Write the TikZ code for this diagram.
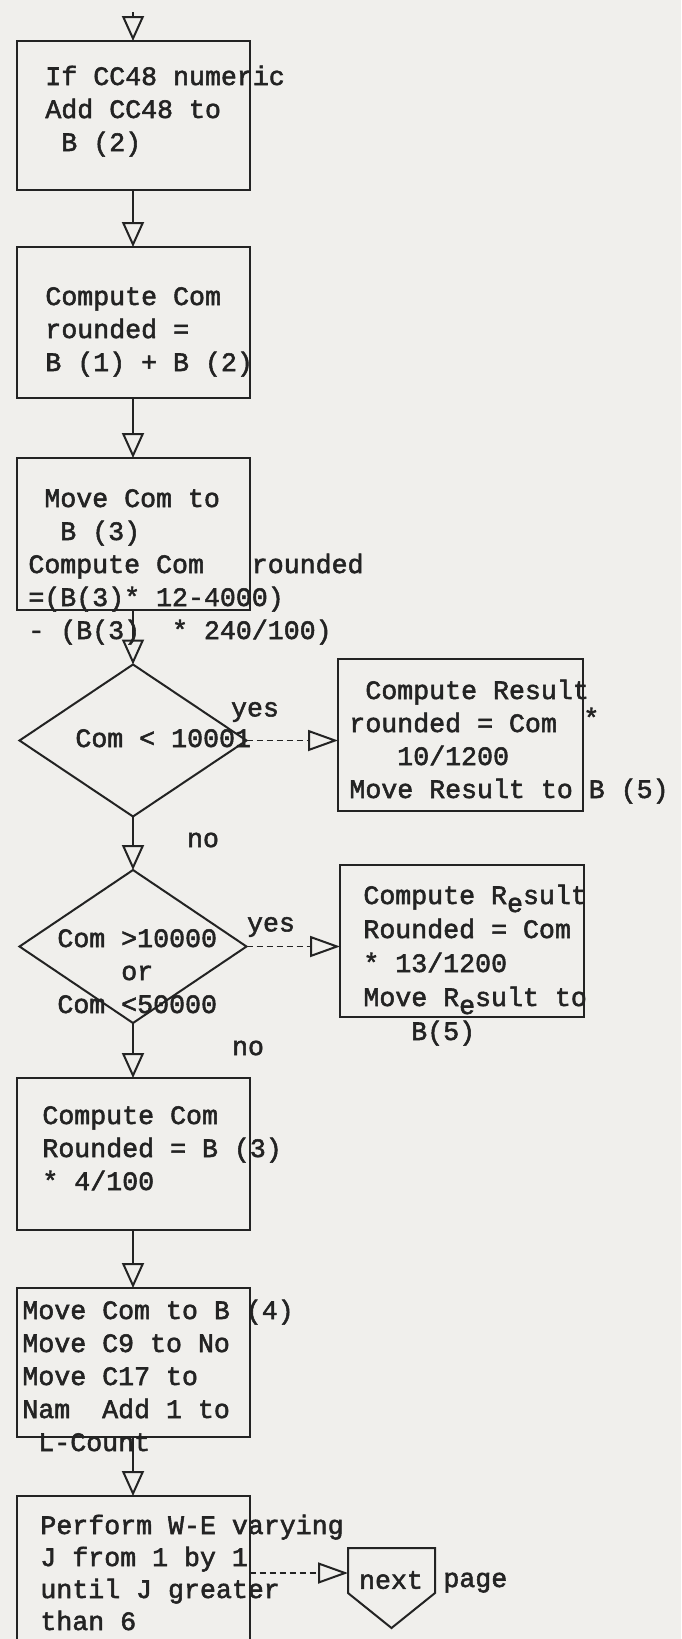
\documentclass[tikz,border=0pt]{standalone}
\usepackage{fontspec}
\usepackage{tikz}
\usetikzlibrary{arrows.meta,shapes.geometric,calc}
\newfontfamily\typerfont[FakeBold=2]{Liberation Mono}
\newcommand{\typer}{\typerfont\fontsize{13.3pt}{16.5pt}\selectfont}
\definecolor{Paper}{RGB}{240,239,236}
\definecolor{Ink}{RGB}{35,35,35}

\begin{document}
\begin{tikzpicture}[x=0.5pt, y=-0.5pt,
    box/.style={draw=Ink, line width=1pt, minimum width=116.5pt, minimum height=75.5pt, inner sep=0pt, outer sep=0pt},
    test/.style={draw=Ink, diamond, line width=1pt, minimum width=113.5pt, minimum height=76pt, inner sep=0pt, outer sep=0pt},
    typed/.style={anchor=base west, inner sep=0pt, align=left, font=\typer, text=Ink},
    flow/.style={draw=Ink, line width=1pt, -{Triangle[open, length=12.5pt, width=11pt, line width=1pt]}},
    branch/.style={draw=Ink, line width=0.6pt, densely dashed, -{Triangle[open, length=15pt, width=10.5pt, line width=1pt]}}]
    \fill[Paper] (0,0) rectangle (681,1639);
    \useasboundingbox (0,0) rectangle (681,1639);

    \node[box, minimum height=74.5pt] (b1) at (133,115.5) {};
    \node[box] (b2) at (133,322.5) {};
    \node[box, minimum height=76pt] (b3) at (133,534) {};
    \node[test] (d1) at (133,740.5) {};
    \node[test, minimum height=76.5pt] (d2) at (133,946.5) {};
    \node[box, minimum height=76pt] (b7) at (133,1154) {};
    \node[box, minimum height=74.5pt] (b8) at (133,1362.5) {};
    \node[box, minimum height=77pt] (b9) at (133,1573) {};
    \node[box, minimum width=122.5pt, minimum height=76pt] (b4) at (460.5,735) {};
    \node[box, minimum width=122pt, minimum height=76pt] (b6) at (462,941) {};
    \node[inner sep=0pt, outer sep=0pt, minimum width=43.5pt, minimum height=22.5pt] (nxt) at (391.5,1570.5) {};
    \draw[Ink, line width=1pt] (nxt.north west) -- (nxt.north east) -- (nxt.south east)
      -- ($(nxt.south)+(0,35)$) -- (nxt.south west) -- cycle;

    \coordinate (in) at (133,12);
    \draw[flow] (in) -- (b1.north);
    \foreach \a/\b in {b1/b2,b2/b3,b3/d1,d1/d2,d2/b7,b7/b8,b8/b9}
      \draw[flow] (\a.south) -- (\b.north);
    \draw[branch] (d1.east) -- (d1.east -| b4.west);
    \draw[branch] (d2.east) -- (d2.east -| b6.west);
    \draw[branch] (b9.east) -- (b9.east -| nxt.west);

    \node[typed] (t1) at (45,151) {If CC48 numeric\\Add CC48 to\\~B (2)};
    \node[typed] (t2) at (45,371) {Compute Com\\rounded =\\B (1) + B (2)};
    \node[typed] (t3) at (28,639) {~Move Com to\\~~B (3)\\Compute Com~~~rounded\\=(B(3)* 12-4000)\\- (B(3)~~* 240/100)};
    \node[typed] (c1) at (75,747) {Com < 10001};
    \node[typed] (c2) at (57,1013) {Com >10000\\~~~~or\\Com <50000};
    \node[typed] (t4) at (349,798) {~Compute Result\\rounded = Com\\~~~10/1200\\Move Result to B (5)};
    \node[typed] (star) at (583,727) {*};
    \node[typed, font=\typerfont\fontsize{13.3pt}{17pt}\selectfont] (t6) at (363,1040)
      {Compute R\raisebox{-4pt}{e}sult\\Rounded = Com\\* 13/1200\\Move R\raisebox{-4pt}{e}sult to\\~~~B(5)};
    \node[typed] (t7) at (42,1190) {Compute Com\\Rounded = B (3)\\* 4/100};
    \node[typed] (t8) at (22,1451) {Move Com to B (4)\\Move C9 to No\\Move C17 to\\Nam~~Add 1 to\\~L-Count};
    \node[typed, font=\typerfont\fontsize{13.3pt}{16pt}\selectfont] (t9) at (40,1630) {Perform W-E varying\\J from 1 by 1\\until J greater\\than 6};
    \node[typed, anchor=center] (yes1) at (255,712) {yes};
    \node[typed, anchor=center] (yes2) at (271,927) {yes};
    \node[typed, anchor=center] (no1) at (203,840) {no};
    \node[typed, anchor=center] (no2) at (248,1048) {no};
    \node[typed, anchor=center] (nxtlbl) at (391,1580) {next};
    \node[typed] (page) at (443,1587) {page};
  \end{tikzpicture}
\end{document}
